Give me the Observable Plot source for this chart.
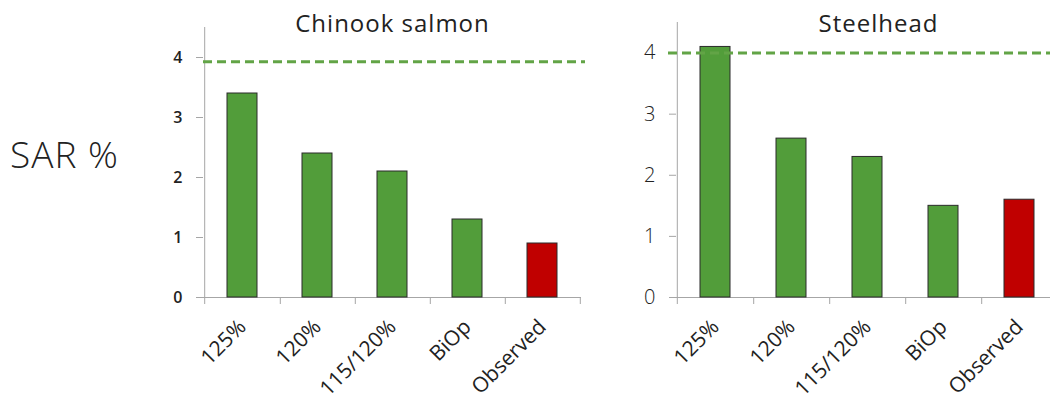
<!DOCTYPE html>
<html><head><meta charset="utf-8">
<script src="https://cdn.jsdelivr.net/npm/d3@7"></script>
<script src="https://cdn.jsdelivr.net/npm/@observablehq/plot@0.6"></script>
<style>
body{margin:0;width:1050px;height:400px;overflow:hidden;position:relative;background:#fff;font-family:"Open Sans",sans-serif;}
#sar{position:absolute;left:10px;top:128px;font-size:37px;color:#222;font-weight:300;letter-spacing:1px;}
#left{position:absolute;left:130px;top:0;width:470px;}
#right{position:absolute;left:600px;top:0;width:460px;}
svg{overflow:visible;max-width:none !important;}
g[aria-label="text"] text{letter-spacing:1px;}
</style></head><body>
<div id="sar">SAR %</div>
<div id="left"></div><div id="right"></div>
<script>
const categories = ["125%", "120%", "115/120%", "BiOp", "Observed"];
const kinds = ["model", "model", "model", "model", "observed"];
const chinookValues = [3.4, 2.4, 2.1, 1.3, 0.9];
const steelheadValues = [4.1, 2.6, 2.3, 1.5, 1.6];
const chinookTarget = [3.93];
const steelheadTarget = [4.0];
const yTicks = [0, 1, 2, 3, 4];
const yMax = 4.5;
const titles = ["Chinook salmon", "Steelhead"];
const kindColors = {domain: ["model", "observed"], range: ["#529d3a", "#c00000"]};

function panel(o) {
  const data = categories.map((c, i) => ({cat: c, value: o.values[i], kind: kinds[i]}));
  const step = (o.width - o.marginLeft - o.marginRight) / categories.length;
  const gray = "#a6a6a6";
  return Plot.plot({
    width: o.width, height: 400,
    marginLeft: o.marginLeft, marginRight: o.marginRight,
    marginTop: o.marginTop, marginBottom: 103,
    style: {fontFamily: "'Open Sans', sans-serif", color: "#222", background: "transparent"},
    x: {domain: categories, paddingInner: 0.6, paddingOuter: 0.3, axis: null},
    y: {domain: [0, yMax], axis: null},
    color: kindColors,
    marks: [
      Plot.axisY({ticks: yTicks, tickFormat: d3.format("d"), tickSize: 7, tickPadding: 14, stroke: gray, fill: "#222", fontSize: o.yFont, fontWeight: o.yWeight, label: null}),
      Plot.axisX({tickSize: 0, tickRotate: -45, tickPadding: o.xPad, fontSize: 21, fill: "#222", label: null}),
      Plot.ruleX(categories.slice(0, 1), {x: d => d, dx: -step / 2, y1: yMax, y2: 0, insetBottom: -7, stroke: gray}),
      Plot.ruleX(categories, {x: d => d, dx: step / 2, y1: 0, y2: 0, insetBottom: -7, stroke: gray}),
      Plot.ruleY([0], {stroke: gray}),
      Plot.barY(data, {x: "cat", y: "value", fill: "kind", stroke: "#2a2a2a", strokeWidth: 1}),
      Plot.ruleY(o.target, {stroke: "#62a446", strokeWidth: 3, strokeDasharray: "9,5", insetLeft: o.ruleInsetLeft, insetRight: o.ruleInsetRight}),
      Plot.text([o.title], {frameAnchor: "top", lineAnchor: "bottom", dy: o.titleDy, dx: o.titleDx, fontSize: 24, fill: "#222"})
    ]
  });
}

document.getElementById("left").append(panel({
  title: titles[0], values: chinookValues, target: chinookTarget,
  width: 470, marginLeft: 73, marginRight: 19, marginTop: 27,
  yFont: 16, yWeight: 600, xPad: 26, titleDx: 0, titleDy: 4, ruleInsetLeft: 0, ruleInsetRight: -4
}));
document.getElementById("right").append(panel({
  title: titles[1], values: steelheadValues, target: steelheadTarget,
  width: 460, marginLeft: 76, marginRight: 2, marginTop: 22,
  yFont: 20, yWeight: 300, xPad: 26, titleDx: 11, titleDy: 9, ruleInsetLeft: -8, ruleInsetRight: -10
}));
</script>
</body></html>
